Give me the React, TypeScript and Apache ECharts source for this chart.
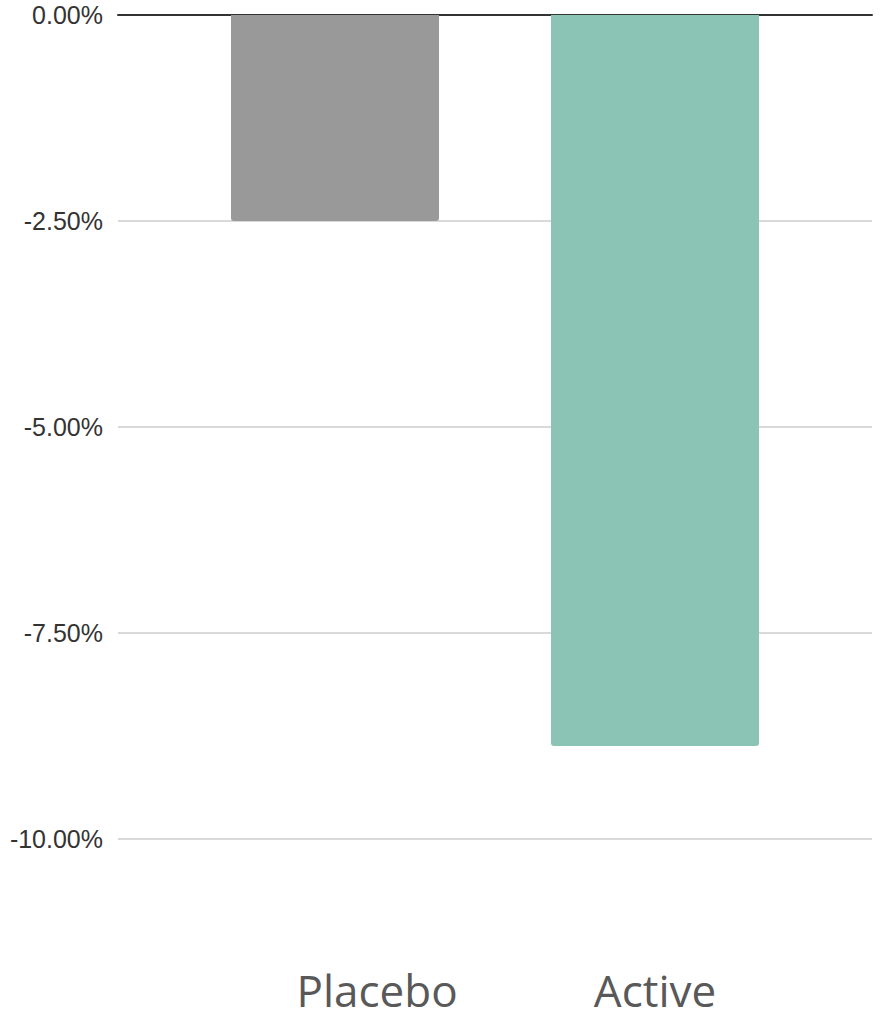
import React, { useEffect, useRef } from "react";
import * as echarts from "echarts";

const categories = ["Placebo", "Active"];
const values = [-2.5, -8.87];
const barColors = ["#999999", "#8BC4B4"];
const labelShift = [84, 0];
const yMin = -10;
const yMax = 0;
const yInterval = 2.5;

export default function App() {
  const ref = useRef<HTMLDivElement>(null);
  useEffect(() => {
    if (!ref.current) return;
    const chart = echarts.init(ref.current, undefined, { renderer: "svg" });
    chart.setOption({
      animation: false,
      backgroundColor: "#ffffff",
      grid: [
        { left: 118, right: 18, top: 15, bottom: 185 },
        { left: 175, right: 75, top: 15, bottom: 185 },
      ],
      xAxis: [
        {
          gridIndex: 0,
          type: "category",
          data: categories,
          position: "top",
          axisLine: { show: true, onZero: true, lineStyle: { color: "#333333", width: 2 } },
          axisTick: { show: false },
          axisLabel: { show: false },
          splitLine: { show: false },
        },
        {
          gridIndex: 1,
          type: "category",
          data: categories.map((c, i) => ({
            value: c,
            textStyle: { padding: [0, 0, 0, labelShift[i]] },
          })),
          position: "bottom",
          axisLine: { show: false, onZero: false },
          axisTick: { show: false },
          axisLabel: {
            show: true,
            margin: 129,
            fontSize: 44,
            color: "#595959",
            fontFamily: "'Open Sans', 'Noto Sans', sans-serif",
          },
        },
      ],
      yAxis: [
        {
          gridIndex: 0,
          type: "value",
          min: yMin,
          max: yMax,
          interval: yInterval,
          axisLine: { show: false },
          axisTick: { show: false },
          axisLabel: {
            margin: 15,
            fontSize: 25,
            color: "#333333",
            fontFamily: "'Liberation Sans', Arial, sans-serif",
            formatter: (v: number) => v.toFixed(2) + "%",
          },
          splitLine: { show: true, lineStyle: { color: "#cccccc", width: 1.5 } },
        },
        {
          gridIndex: 1,
          type: "value",
          min: yMin,
          max: yMax,
          interval: yInterval,
          show: false,
          splitLine: { show: false },
        },
      ],
      series: [
        {
          type: "bar",
          xAxisIndex: 1,
          yAxisIndex: 1,
          barWidth: 208,
          data: values.map((v, i) => ({
            value: v,
            itemStyle: { color: barColors[i], borderRadius: [0, 0, 3, 3] },
          })),
        },
      ],
    });
    return () => chart.dispose();
  }, []);
  return (
    <div
      ref={ref}
      style={{ position: "fixed", left: 0, top: 0, width: 890, height: 1024 }}
    />
  );
}
